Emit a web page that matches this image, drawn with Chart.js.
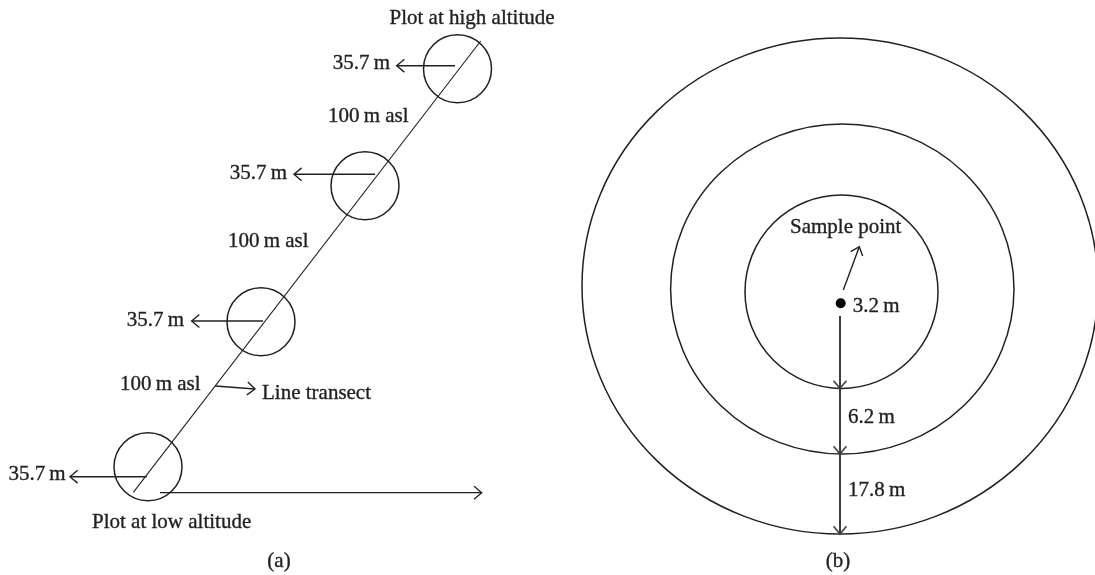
<!DOCTYPE html>
<html>
<head>
<meta charset="utf-8">
<script src="https://cdn.jsdelivr.net/npm/chart.js@4.4.1/dist/chart.umd.min.js"></script>
<style>
  html, body { margin: 0; padding: 0; background: #ffffff; }
  #wrap { width: 1095px; height: 575px; }
</style>
</head>
<body>
<div id="wrap"><canvas id="sketch" width="1095" height="575"></canvas></div>
<script>
// ---- Panel (a): altitude line transect with four circular plots ----
const transectLine = [{ x: 133.3, y: 492.3 }, { x: 480.7, y: 41 }];
const baseArrow = [{ x: 160, y: 492.7 }, { x: 481.7, y: 492.7 }];
const plotCentres = [
  { x: 148, y: 466.7 },
  { x: 261, y: 321.7 },
  { x: 365, y: 185.7 },
  { x: 457.5, y: 68.7 }
];
// radius arrows drawn from inside each plot outward (tail -> tip)
const plotRadiusArrows = [
  [{ x: 146.7, y: 476.7 }, { x: 70, y: 476.7 }],
  [{ x: 263, y: 321 }, { x: 191.7, y: 321 }],
  [{ x: 375, y: 174.3 }, { x: 294, y: 174.3 }],
  [{ x: 455, y: 65.7 }, { x: 396.7, y: 65.7 }]
];
const transectPointer = [{ x: 215, y: 386 }, { x: 255, y: 389 }];

// ---- Panel (b): nested sampling rings around a sample point ----
const ringCentres = [
  { x: 841.5, y: 291.7 },
  { x: 842.3, y: 289 },
  { x: 840, y: 286 }
];
const ringRadiusX = [96.5, 171.7, 258];
const ringRadiusY = [96.7, 165, 248];
const samplePoint = [{ x: 840.7, y: 303.3 }];
const samplePointer = [{ x: 843.3, y: 290 }, { x: 859.3, y: 246.7 }];
const ringArrows = [
  [{ x: 840, y: 316 }, { x: 840, y: 388.3 }],
  [{ x: 840, y: 388.3 }, { x: 840, y: 454 }],
  [{ x: 840, y: 454 }, { x: 840, y: 534 }]
];

// ---- Text labels ----
const labelTexts = [
  'Plot at high altitude', '35.7\u2009m', '100\u2009m asl', '35.7\u2009m', '100\u2009m asl',
  '35.7\u2009m', '100\u2009m asl', 'Line transect', '35.7\u2009m', 'Plot at low altitude', '(a)',
  'Sample point', '3.2\u2009m', '6.2\u2009m', '17.8\u2009m', '(b)'
];
const labelAnchors = [
  { x: 472, y: 24, align: 'center' },
  { x: 390, y: 69.3, align: 'right' },
  { x: 328, y: 121.7, align: 'left' },
  { x: 287, y: 179.3, align: 'right' },
  { x: 228, y: 247, align: 'left' },
  { x: 184, y: 325.7, align: 'right' },
  { x: 120, y: 390, align: 'left' },
  { x: 262, y: 399, align: 'left' },
  { x: 65.7, y: 480, align: 'right' },
  { x: 92, y: 527.7, align: 'left' },
  { x: 279, y: 567, align: 'center' },
  { x: 790, y: 233.3, align: 'left' },
  { x: 852.7, y: 311.7, align: 'left' },
  { x: 848, y: 423.3, align: 'left' },
  { x: 848, y: 496, align: 'left' },
  { x: 838, y: 567, align: 'center' }
];

const INK = '#231f20';
const GREY = '#3c3c3c';
const FONT = '21px "Liberation Serif", "DejaVu Serif", serif';

function segment(points, color, width, arrow) {
  return {
    type: 'scatter',
    data: points,
    showLine: true,
    borderColor: color,
    borderWidth: width,
    pointRadius: 0,
    pointHoverRadius: 0,
    fill: false,
    tension: 0,
    arrowHead: arrow,
    clip: false
  };
}

const datasets = [];
datasets.push(segment(transectLine, INK, 1.1, false));
datasets.push(segment(baseArrow, INK, 1.3, true));
plotRadiusArrows.forEach(a => datasets.push(segment(a, INK, 1.4, true)));
datasets.push(segment(transectPointer, INK, 1.4, true));
datasets.push(segment(samplePointer, INK, 1.4, true));
ringArrows.forEach(a => datasets.push(segment(a, GREY, 2, true)));

// circular plots along the transect
datasets.push({
  type: 'scatter',
  data: plotCentres,
  pointRadius: 34,
  pointHoverRadius: 34,
  pointBorderWidth: 1.5,
  pointBorderColor: INK,
  pointBackgroundColor: 'rgba(0,0,0,0)',
  clip: false
});
// the sample point
datasets.push({
  type: 'scatter',
  data: samplePoint,
  pointRadius: 5,
  pointHoverRadius: 5,
  pointBorderWidth: 0,
  pointBackgroundColor: '#000000',
  clip: false
});

// open V arrowheads at the end of flagged segments
const arrowHeads = {
  id: 'arrowHeads',
  afterDatasetsDraw(chart) {
    const ctx = chart.ctx;
    chart.data.datasets.forEach((ds, i) => {
      if (!ds.arrowHead) return;
      const pts = chart.getDatasetMeta(i).data;
      const a = pts[pts.length - 2], b = pts[pts.length - 1];
      const ang = Math.atan2(b.y - a.y, b.x - a.x);
      const len = 10, spread = 0.7;
      ctx.save();
      ctx.strokeStyle = ds.borderColor;
      ctx.lineWidth = Math.min(ds.borderWidth, 1.5);
      ctx.beginPath();
      ctx.moveTo(b.x - len * Math.cos(ang - spread), b.y - len * Math.sin(ang - spread));
      ctx.lineTo(b.x, b.y);
      ctx.lineTo(b.x - len * Math.cos(ang + spread), b.y - len * Math.sin(ang + spread));
      ctx.stroke();
      ctx.restore();
    });
  }
};

// nested rings of panel (b), positioned through the chart scales
const rings = {
  id: 'rings',
  beforeDatasetsDraw(chart) {
    const { ctx, scales: { x, y } } = chart;
    ctx.save();
    ctx.strokeStyle = INK;
    ctx.lineWidth = 1.5;
    ringCentres.forEach((c, i) => {
      const cx = x.getPixelForValue(c.x), cy = y.getPixelForValue(c.y);
      const rx = Math.abs(x.getPixelForValue(c.x + ringRadiusX[i]) - cx);
      const ry = Math.abs(y.getPixelForValue(c.y + ringRadiusY[i]) - cy);
      ctx.beginPath();
      ctx.ellipse(cx, cy, rx, ry, 0, 0, Math.PI * 2);
      ctx.stroke();
    });
    ctx.restore();
  }
};

const labels = {
  id: 'labels',
  afterDraw(chart) {
    const { ctx, scales: { x, y } } = chart;
    ctx.save();
    ctx.fillStyle = INK;
    ctx.strokeStyle = INK;
    ctx.lineWidth = 0.35;
    ctx.font = FONT;
    ctx.textBaseline = 'alphabetic';
    labelTexts.forEach((t, i) => {
      const p = labelAnchors[i];
      ctx.textAlign = p.align;
      const px = x.getPixelForValue(p.x), py = y.getPixelForValue(p.y);
      ctx.fillText(t, px, py);
      ctx.strokeText(t, px, py);
    });
    ctx.restore();
  }
};

const whiteBg = {
  id: 'whiteBg',
  beforeDraw(chart) {
    const ctx = chart.ctx;
    ctx.save();
    ctx.fillStyle = '#ffffff';
    ctx.fillRect(0, 0, chart.width, chart.height);
    ctx.restore();
  }
};

new Chart(document.getElementById('sketch'), {
  type: 'scatter',
  data: { datasets },
  options: {
    responsive: false,
    animation: false,
    events: [],
    layout: { padding: 0, autoPadding: false },
    plugins: { legend: { display: false }, tooltip: { enabled: false } },
    scales: {
      x: { type: 'linear', min: 0, max: 1095, display: false },
      y: { type: 'linear', min: 0, max: 575, reverse: true, display: false }
    }
  },
  plugins: [whiteBg, rings, arrowHeads, labels]
});
</script>
</body>
</html>
